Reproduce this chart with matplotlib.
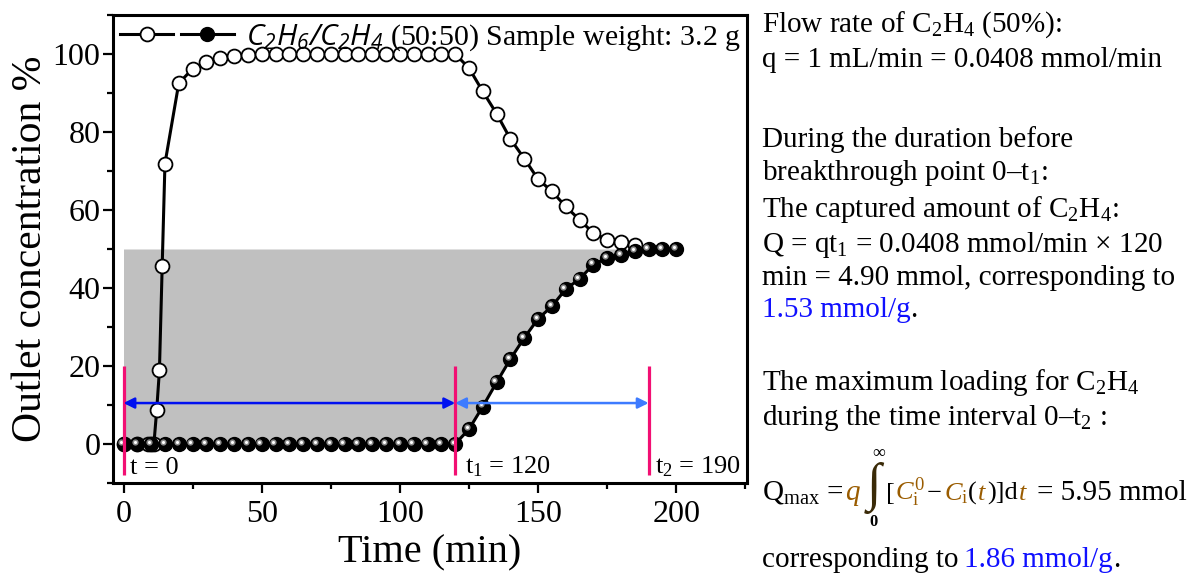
import matplotlib
matplotlib.use('Agg')
import matplotlib.pyplot as plt
import numpy as np
from matplotlib.legend_handler import HandlerTuple
from matplotlib.transforms import offset_copy
from matplotlib.ticker import MultipleLocator

plt.rcParams['font.family'] = ['Liberation Serif', 'DejaVu Serif']
plt.rcParams['mathtext.fontset'] = 'custom'
plt.rcParams['mathtext.rm'] = 'Liberation Serif'
plt.rcParams['mathtext.it'] = 'Liberation Serif:italic'
plt.rcParams['mathtext.bf'] = 'Liberation Serif:bold'
plt.rcParams['mathtext.sf'] = 'Open Sans:italic'

# breakthrough curves, C2H6/C2H4 (50:50), outlet concentration in %
time_c2h6 = [0, 5, 9, 10, 11, 12, 13, 14, 15, 20, 25, 30, 35, 40, 45,
             50, 55, 60, 65, 70, 75, 80, 85, 90, 95, 100, 105, 110, 115, 120,
             125, 130, 135, 140, 145, 150, 155, 160, 165, 170, 175, 180, 185]
conc_c2h6 = [0, 0, 0, 0, 0, 8.6, 18.9, 45.7, 71.9, 92.5, 96.2, 98.0, 99.0, 99.4, 99.8,
             100, 100, 100, 100, 100, 100, 100, 100, 100, 100, 100, 100, 100, 100, 100,
             96.4, 90.4, 84.7, 78.2, 73.2, 67.9, 64.8, 60.9, 57.5, 54.1, 52.4, 51.7, 51.1]

time_c2h4 = [0, 5, 10, 15, 20, 25, 30, 35, 40, 45, 50, 55, 60, 65, 70, 75, 80, 85,
             90, 95, 100, 105, 110, 115, 120,
             125, 130, 135, 140, 145, 150, 155, 160, 165, 170, 175, 180, 185, 190, 195, 200]
conc_c2h4 = [0] * 25 + [3.8, 9.6, 15.8, 21.8, 27.2, 32.1, 35.3, 39.7, 42.3, 46.0,
                        47.7, 48.5, 49.4, 50.0, 50.0, 50.0]

feed_c2h4 = 50
t0, t1, t2 = 0, 120, 190

W, H = 1191, 577
fig = plt.figure(figsize=(W / 100, H / 100), dpi=100)
ax = fig.add_axes([113 / W, 1 - 483 / H, (747 - 113) / W, (483 - 15) / H])

# captured C2H4 area
tt = np.array(time_c2h4)
cc = np.array(conc_c2h4)
ax.fill_between(tt, cc, feed_c2h4, where=tt <= t2, color='#c0c0c0', lw=0, zorder=1)

h6, = ax.plot(time_c2h6, conc_c2h6, '-o', color='black', lw=2.2, ms=10,
              mfc='white', mec='black', mew=1.3, zorder=3)
h4, = ax.plot(time_c2h4, conc_c2h4, '-o', color='black', lw=2.2, ms=10,
              mfc='black', mec='black', mew=1, zorder=4)
# shiny highlight on the filled markers
shift = offset_copy(ax.transData, fig=fig, x=-1.6, y=1.6, units='points')
ax.plot(time_c2h4, conc_c2h4, 'o', ms=4.5, color='#8c8c8c', mew=0, transform=shift, zorder=5)
ax.plot(time_c2h4, conc_c2h4, 'o', ms=2.2, color='white', mew=0, transform=shift, zorder=5)

# interval markers
pink = '#f20f73'
for t in (t0, t1, t2):
    ax.plot([t, t], [-8, 20], color=pink, lw=2.3, zorder=6, solid_capstyle='butt')
arrow_y = 10.5
ax.annotate('', xy=(t0, arrow_y), xytext=(t1, arrow_y), zorder=6,
            arrowprops=dict(arrowstyle='<|-|>', color='#0010f0', lw=1.8,
                            mutation_scale=16, shrinkA=0, shrinkB=0))
ax.annotate('', xy=(t1, arrow_y), xytext=(t2, arrow_y), zorder=6,
            arrowprops=dict(arrowstyle='<|-|>', color='#3d7bff', lw=1.8,
                            mutation_scale=16, shrinkA=0, shrinkB=0))
ax.text(t0 + 2.4, -7.6, 't = 0', fontsize=19, va='baseline')
ax.text(t1 + 3.6, -7.6, r't$_1$ = 120', fontsize=19, va='baseline')
ax.text(t2 + 2.4, -7.6, r't$_2$ = 190', fontsize=19, va='baseline')

ax.set_xlim(-3.8, 225.6)
ax.set_ylim(-10, 110)
ax.set_xticks([0, 50, 100, 150, 200])
ax.set_yticks([0, 20, 40, 60, 80, 100])
ax.xaxis.set_minor_locator(MultipleLocator(25))
ax.yaxis.set_minor_locator(MultipleLocator(10))
ax.tick_params(which='both', direction='out', top=False, right=False, width=1.6)
ax.tick_params(which='major', length=7, labelsize=23)
ax.tick_params(axis='y', which='major', pad=2)
ax.tick_params(axis='x', which='major', pad=5)
ax.tick_params(which='minor', length=4.5)
for sp in ax.spines.values():
    sp.set_linewidth(2.2)
ax.set_xlabel('Time (min)', fontsize=29, labelpad=4)
ax.set_ylabel('Outlet concentration %', fontsize=30, labelpad=2)

ax.legend([(h6, h4)], [r'$\mathsf{C_2H_6/C_2H_4}$ (50:50) Sample weight: 3.2 g'],
          handler_map={tuple: HandlerTuple(ndivide=None, pad=0.25)},
          loc='upper left', frameon=False, fontsize=21.5, numpoints=1,
          handlelength=3.8, handletextpad=0.4, borderaxespad=0.15, borderpad=0.1)

# calculation notes beside the plot
renderer = fig.canvas.get_renderer()
blue = '#1010ff'
orange = '#9a5c00'


def note(px, py, pieces, size=21):
    x = px / W
    for s, color, gap, *fs in pieces:
        t = fig.text(x, 1 - py / H, s, color=color, fontsize=fs[0] if fs else size,
                     va='baseline')
        x = t.get_window_extent(renderer).x1 / W + gap / W
    return x


lx = 762
note(lx, 31.7, [(r'Flow rate of C$_2$H$_4$ (50%):', 'black', 0)])
note(lx, 66.7, [('q = 1 mL/min = 0.0408 mmol/min', 'black', 0)])
note(lx, 146.7, [('During the duration before', 'black', 0)])
note(lx, 180, [(r'breakthrough point 0–t$_1$:', 'black', 0)])
note(lx, 216.7, [(r'The captured amount of C$_2$H$_4$:', 'black', 0)])
note(lx, 251.7, [(r'Q = qt$_1$ = 0.0408 mmol/min × 120', 'black', 0)])
note(lx, 285, [('min = 4.90 mmol, corresponding to', 'black', 0)])
note(lx, 316.7, [('1.53 mmol/g', blue, 0), ('.', 'black', 0)])
note(lx, 390, [(r'The maximum loading for C$_2$H$_4$', 'black', 0)])
note(lx, 425, [(r'during the time interval 0–t$_2$ :', 'black', 0)])

# Q_max integral
x = note(lx, 500, [(r'Q$_{\mathrm{max}}$ =', 'black', 2), (r'$q$', orange, 3)])
fig.text(x, 1 - 488 / H, r'$\int$', fontsize=38, va='center', color='#3a2a08')
fig.text(x + 15 / W, 1 - 451 / H, r'$\infty$', fontsize=13, ha='center', va='center')
fig.text(x + 9 / W, 1 - 522 / H, '0', fontsize=12, ha='center', va='center',
         fontweight='bold')
note(x * W + 22, 500, [('[', 'black', 0, 19), (r'$C_{\mathrm{i}}^{0}$', orange, 2, 19),
                       ('−', 'black', 2, 19), (r'$C_{\mathrm{i}}$', orange, 0, 19),
                       ('(', 'black', 0, 19), (r'$t$', orange, 0, 19), (')]d', 'black', 0, 19),
                       (r'$t$', orange, 10, 19), ('= 5.95 mmol', 'black', 0)])
note(lx, 566.7, [('corresponding to', 'black', 6), ('1.86 mmol/g', blue, 0), ('.', 'black', 0)])

fig.savefig('out.png', dpi=100)
